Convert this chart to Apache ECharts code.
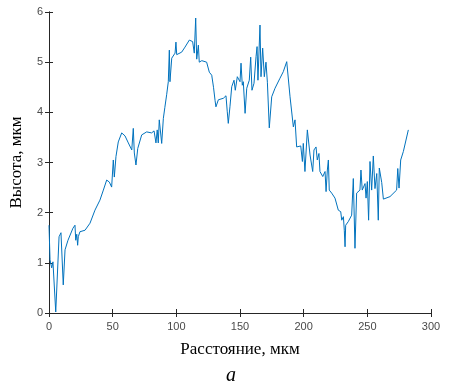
<!DOCTYPE html>
<html><head><meta charset="utf-8">
<script src="https://cdn.jsdelivr.net/npm/echarts@6/dist/echarts.min.js"></script>
<style>html,body{margin:0;padding:0;background:#fff}#c{width:466px;height:385px}</style>
</head><body><div id="c"></div>
<script>
const distance = [0,0.8,2.1,3.1,4.6,5.3,7.9,9.4,11.2,12.6,14.9,18.8,20.4,21.0,21.8,22.5,23.0,24.3,28.3,32.2,36.1,40.0,42.7,45.3,47.4,49.2,50.5,51.3,52.6,54.4,57.1,59.7,62.3,65.0,66.2,67.0,68.3,69.7,72.8,76.7,80.6,82.5,84.0,85.0,85.8,86.6,88.5,89.8,91.0,92.4,93.7,94.5,95.0,96.4,99.0,99.7,100.3,104.2,106.8,110.2,112.8,114.1,115.2,116.0,117.3,118.0,120.0,123.8,125.9,127.8,129.2,130.4,131.1,133.0,136.9,139.0,140.0,140.8,142.1,143.5,145.3,146.3,147.9,150.0,150.8,151.8,152.6,154.0,155.3,157.3,158.4,159.4,161.0,162.6,163.4,164.1,165.7,166.5,167.8,169.1,170.4,171.5,173.0,174.9,177.5,181.4,184.0,186.7,189.3,190.6,191.9,193.2,194.5,197.7,199.0,199.7,201.0,202.9,205.0,206.0,207.1,208.1,209.7,210.7,212.0,212.8,215.0,216.8,217.6,218.6,219.4,220.1,222.0,224.6,227.2,229.1,229.9,231.2,231.9,232.5,233.0,235.0,237.7,239.0,240.3,241.6,244.2,245.0,246.0,248.2,249.0,250.0,251.0,252.1,253.4,254.7,256.0,257.4,258.6,259.4,261.3,262.6,267.8,273.0,273.9,274.9,276.2,278.3,282.2];
const height = [1.75,1.06,0.9,1.02,1.0,0.02,1.52,1.6,0.56,1.26,1.45,1.69,1.75,1.45,1.57,1.35,1.52,1.62,1.65,1.79,2.05,2.25,2.45,2.65,2.61,2.51,3.05,2.71,3.12,3.41,3.59,3.53,3.39,3.25,3.68,3.19,2.95,3.28,3.55,3.61,3.59,3.63,3.39,3.65,3.39,3.85,3.38,3.88,4.1,4.35,4.61,5.24,4.61,5.08,5.18,5.40,5.15,5.2,5.3,5.44,5.41,5.18,5.88,5.06,5.34,5.0,5.03,5.0,4.8,4.74,4.5,4.24,4.11,4.25,4.28,4.33,4.01,3.78,4.11,4.51,4.64,4.44,4.71,4.61,4.98,4.54,4.61,3.98,4.48,4.64,5.1,4.44,4.58,5.11,5.31,4.64,5.74,4.71,5.28,4.71,5.0,4.6,3.69,4.31,4.48,4.68,4.81,5.01,4.31,4.28,3.71,3.85,3.31,3.33,3.02,3.38,2.82,3.65,3.15,3.15,2.82,3.25,3.31,3.05,3.18,2.82,2.72,2.82,2.42,2.85,3.05,2.45,2.39,2.29,2.05,2.02,1.85,1.92,1.65,1.32,1.75,1.82,1.95,2.68,1.29,2.39,2.45,2.85,2.45,2.58,2.29,2.62,1.85,3.02,2.45,3.13,2.48,2.78,1.85,2.89,2.6,2.27,2.32,2.45,2.88,2.49,3.05,3.22,3.65];
const xTitle = 'Расстояние, мкм';
const yTitle = 'Высота, мкм';
const caption = 'а';

const chart = echarts.init(document.getElementById('c'), null, {renderer:'canvas'});
const axisLine = {show:true, lineStyle:{color:'#262626', width:1}};
const tickIn = {show:true, inside:true, length:4, lineStyle:{color:'#262626'}};
const lbl = {color:'#4a4a4a', fontFamily:'Liberation Sans, Arial', fontSize:11};
chart.setOption({
  animation:false,
  backgroundColor:'#fff',
  grid:{left:49, right:35, top:12, bottom:72},
  xAxis:[
    {type:'value', min:0, max:300, interval:50, position:'bottom',
     axisLine:axisLine, axisTick:tickIn, splitLine:{show:false},
     axisLabel:Object.assign({margin:8}, lbl),
     name:xTitle, nameLocation:'middle', nameGap:28,
     nameTextStyle:{fontFamily:'Liberation Serif, Times New Roman', fontSize:17, color:'#000'}},
    {type:'value', min:0, max:300, interval:50, position:'top',
     axisLine:axisLine, axisTick:tickIn, splitLine:{show:false}, axisLabel:{show:false}}
  ],
  yAxis:[
    {type:'value', min:0, max:6, interval:1, position:'left',
     axisLine:axisLine, axisTick:tickIn, splitLine:{show:false},
     axisLabel:Object.assign({margin:6}, lbl),
     name:yTitle, nameLocation:'middle', nameGap:24,
     nameTextStyle:{fontFamily:'Liberation Serif, Times New Roman', fontSize:17, color:'#000'}},
    {type:'value', min:0, max:6, interval:1, position:'right',
     axisLine:axisLine, axisTick:tickIn, splitLine:{show:false}, axisLabel:{show:false}}
  ],
  graphic:[{type:'text', left:226, top:366,
    style:{text:caption, font:'italic 20px "Liberation Serif"', fill:'#000'}}],
  series:[{type:'line', xAxisIndex:0, yAxisIndex:0, symbol:'none',
    data: distance.map((d,i)=>[d, height[i]]),
    lineStyle:{color:'#0072BD', width:1}}]
});
</script></body></html>
